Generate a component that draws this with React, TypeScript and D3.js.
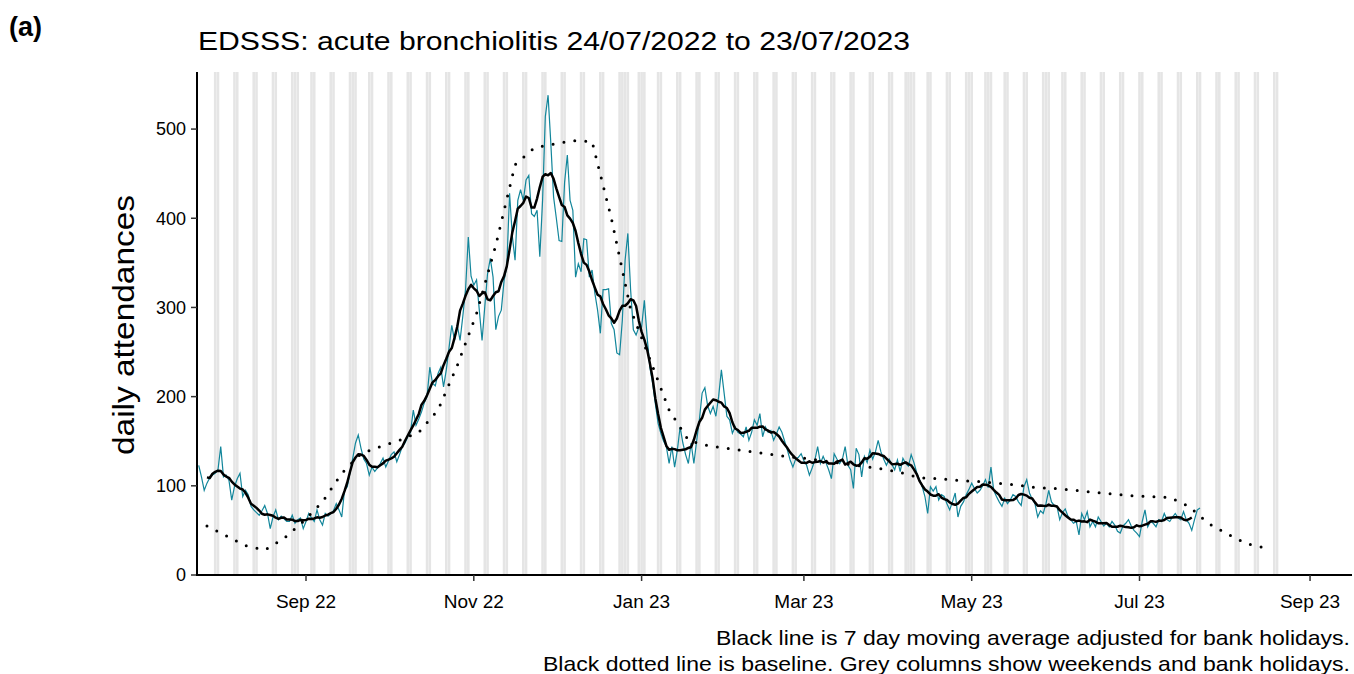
import React from "react";
import * as d3 from "d3";

// EDSSS acute bronchiolitis, daily ED attendances 24/07/2022 - 23/07/2023
const startDate = new Date(2022, 6, 24);

// one value per day, starting Sunday 24 July 2022
const dailyAttendances = [
  // Jul 24 - Aug 20
  123, 110, 95, 103, 109, 112, 114, 118, 144, 110, 112, 106, 84, 99,
  108, 114, 88, 95, 90, 77, 73, 70, 67, 72, 78, 69, 52, 65,
  // Aug 21 - Sep 17
  73, 62, 66, 63, 60, 60, 67, 58, 62, 64, 52, 60, 69, 64,
  60, 73, 62, 56, 69, 66, 69, 72, 80, 73, 65, 95, 99, 115,
  // Sep 18 - Oct 15
  131, 148, 157, 142, 130, 125, 112, 121, 116, 120, 125, 131, 121, 128,
  135, 138, 127, 135, 144, 148, 155, 160, 185, 168, 175, 183, 193, 200,
  // Oct 16 - Nov 12
  233, 215, 212, 226, 233, 211, 230, 255, 280, 263, 280, 263, 290, 320,
  379, 335, 325, 331, 297, 263, 301, 338, 355, 334, 275, 290, 297, 330,
  // Nov 13 - Dec 10
  346, 428, 380, 353, 420, 432, 420, 443, 448, 405, 402, 409, 357, 420,
  514, 538, 484, 424, 400, 375, 374, 440, 471, 420, 409, 334, 349, 340,
  // Dec 11 - Jan 7
  377, 376, 334, 342, 316, 297, 271, 320, 320, 321, 282, 275, 249, 247,
  286, 353, 383, 320, 275, 269, 278, 278, 308, 267, 233, 215, 192, 170,
  // Jan 8 - Feb 4
  159, 150, 144, 125, 144, 121, 140, 166, 148, 135, 125, 148, 125, 150,
  174, 204, 210, 190, 181, 189, 178, 200, 230, 204, 178, 174, 159, 166,
  // Feb 5 - Mar 4
  160, 158, 155, 166, 151, 160, 174, 168, 181, 155, 166, 160, 162, 151,
  158, 166, 160, 150, 140, 129, 121, 130, 132, 136, 128, 123, 112, 120,
  // Mar 5 - Apr 1
  129, 144, 125, 133, 126, 118, 108, 136, 130, 125, 130, 144, 123, 118,
  97, 142, 135, 110, 133, 126, 140, 130, 138, 151, 138, 130, 123, 130,
  // Apr 2 - Apr 29
  124, 118, 129, 116, 131, 125, 122, 135, 126, 115, 107, 99, 88, 69,
  99, 94, 99, 84, 90, 88, 80, 73, 82, 92, 65, 77, 82, 90,
  // Apr 30 - May 27
  96, 103, 97, 92, 95, 100, 107, 98, 121, 95, 88, 82, 77, 86,
  80, 84, 90, 88, 82, 78, 99, 107, 92, 85, 80, 65, 72, 69,
  // May 28 - Jun 24
  80, 95, 82, 78, 77, 62, 70, 74, 66, 62, 58, 60, 45, 69,
  62, 71, 54, 60, 54, 65, 60, 55, 58, 54, 60, 56, 49, 47,
  // Jun 25 - Jul 23
  55, 58, 62, 55, 50, 47, 43, 60, 73, 54, 60, 58, 54, 62,
  60, 69, 62, 60, 65, 69, 64, 62, 71, 62, 58, 50, 62, 73, 75,
];

// baseline, one knot a week from 27 July 2022
const baselineValues = [
  55, 44, 33, 28, 41, 60, 82, 114, 136, 144, 151, 160, 185, 235,
  293, 370, 460, 479, 483, 487, 486, 400, 298, 242, 185, 151, 145, 142,
  139, 136, 133, 131, 128, 125, 122, 119, 115, 109, 108, 106, 105, 103,
  101, 98, 97, 95, 93, 91, 89, 88, 87, 77, 58, 46, 35, 30,
];

const bankHolidays = [
  "2022-08-29", "2022-09-19", "2022-12-26", "2022-12-27", "2023-01-02",
  "2023-04-07", "2023-04-10", "2023-05-01", "2023-05-08", "2023-05-29",
];

const yTicks = [0, 100, 200, 300, 400, 500];

const titleText = "EDSSS: acute bronchiolitis 24/07/2022 to 23/07/2023";
const captionLines = [
  "Black line is 7 day moving average adjusted for bank holidays.",
  "Black dotted line is baseline. Grey columns show weekends and bank holidays.",
];

const font = "'Liberation Sans', Arial, sans-serif";

export default function App() {
  const width = 1354;
  const height = 674;

  const x = d3
    .scaleTime()
    .domain([new Date(2022, 6, 23, 9), new Date(2023, 8, 16, 6)])
    .range([197, 1352]);
  const y = d3.scaleLinear().domain([0, 564]).range([575, 72]);

  const dayDate = (i: number) => d3.timeDay.offset(startDate, i);
  const fmt = d3.timeFormat("%Y-%m-%d");

  const series = dailyAttendances.map((v, i) => ({ date: dayDate(i), value: v }));
  // centred 7 day moving average
  const movingAvg = series.slice(3, series.length - 3).map((d, k) => ({
    date: d.date,
    value: d3.mean(dailyAttendances.slice(k, k + 7)) as number,
  }));
  const baseline = baselineValues.map((v, k) => ({ date: dayDate(3 + 7 * k), value: v }));

  // weekends & bank holidays up to 20 Aug 2023
  const shadeDays = d3
    .timeDay.range(dayDate(1), dayDate(393))
    .filter((d) => d.getDay() === 0 || d.getDay() === 6 || bankHolidays.includes(fmt(d)));
  const dayW = x(dayDate(1)) - x(dayDate(0));

  const line = d3
    .line<{ date: Date; value: number }>()
    .x((d) => x(d.date))
    .y((d) => y(d.value));

  const xTicks = x.ticks(d3.timeMonth.every(2) as d3.TimeInterval);
  const tickFmt = d3.timeFormat("%b %y");

  return (
    <svg
      width={width}
      height={height}
      style={{ position: "absolute", left: 0, top: 0, background: "#fff" }}
      fontFamily={font}
    >
      <text x={9} y={36} fontSize={27} fontWeight="bold" fill="#000">
        (a)
      </text>
      <text x={198} y={50} fontSize={26} fill="#000" textLength={712} lengthAdjust="spacingAndGlyphs">
        {titleText}
      </text>

      {/* grey columns */}
      <g fill="#e5e5e5">
        {shadeDays.map((d, i) => (
          <rect key={i} x={x(d) - dayW * 0.47} y={72} width={dayW * 0.94} height={503} />
        ))}
      </g>

      {/* daily counts */}
      <path d={line(series) || ""} fill="none" stroke="#12869b" strokeWidth={1.2} />
      {/* baseline */}
      <path
        d={line(baseline) || ""}
        fill="none"
        stroke="#000"
        strokeWidth={3}
        strokeLinecap="round"
        strokeDasharray="0 11"
      />
      {/* moving average */}
      <path
        d={line(movingAvg) || ""}
        fill="none"
        stroke="#000"
        strokeWidth={2.5}
        strokeLinejoin="round"
      />

      {/* y axis */}
      <line x1={197} x2={197} y1={72} y2={576} stroke="#000" strokeWidth={2} />
      {yTicks.map((t) => (
        <g key={t}>
          <line x1={191} x2={197} y1={y(t)} y2={y(t)} stroke="#333" strokeWidth={1.5} />
          <text x={186} y={y(t)} dy="0.35em" textAnchor="end" fontSize={18} fill="#000">
            {t}
          </text>
        </g>
      ))}
      <text
        transform={`translate(134,325) rotate(-90)`}
        textAnchor="middle"
        fontSize={30}
        fill="#000"
        textLength={260}
        lengthAdjust="spacingAndGlyphs"
      >
        daily attendances
      </text>

      {/* x axis */}
      <line x1={196} x2={1352} y1={575} y2={575} stroke="#000" strokeWidth={2} />
      {xTicks.map((t, i) => (
        <g key={i}>
          <line x1={x(t)} x2={x(t)} y1={575} y2={581} stroke="#333" strokeWidth={1.5} />
          <text x={x(t)} y={608} textAnchor="middle" fontSize={19} fill="#000">
            {tickFmt(t)}
          </text>
        </g>
      ))}

      {/* caption */}
      {captionLines.map((c, i) => (
        <text
          key={i}
          x={1350}
          y={645 + i * 26}
          textAnchor="end"
          fontSize={21}
          fill="#000"
          textLength={i === 0 ? 634 : 807}
          lengthAdjust="spacingAndGlyphs"
        >
          {c}
        </text>
      ))}
    </svg>
  );
}
